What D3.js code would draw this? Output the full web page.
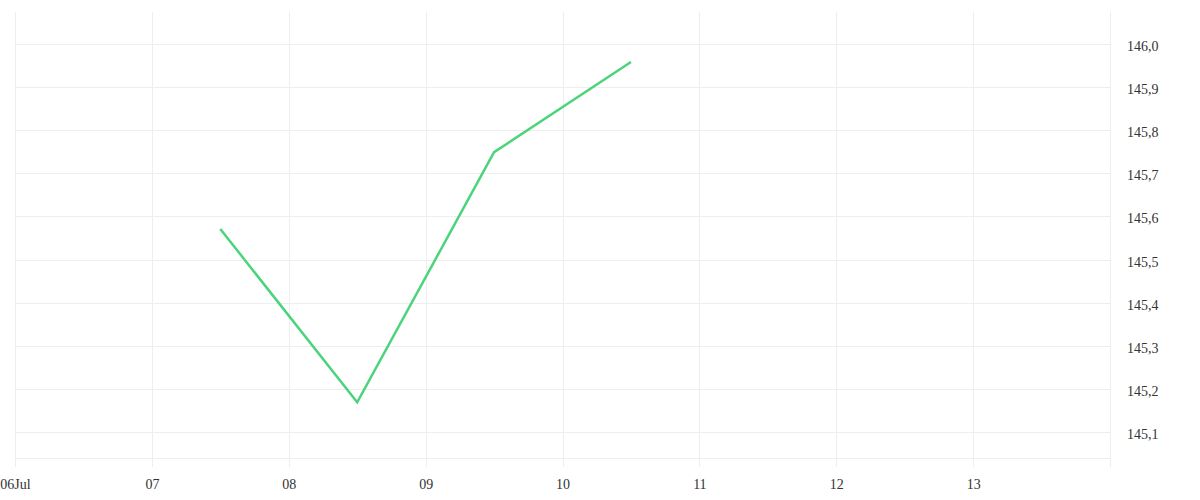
<!DOCTYPE html>
<html>
<head>
<meta charset="utf-8">
<script src="https://cdn.jsdelivr.net/npm/d3@7"></script>
<style>
  body { margin: 0; background: #fff; }
</style>
</head>
<body>
<svg width="1200" height="500"></svg>
<script>
// data
const times = ["2024-07-07T12:00", "2024-07-08T12:00", "2024-07-09T12:00", "2024-07-10T12:00"];
const prices = [145.571, 145.169, 145.749, 145.958];
const dayTicks = ["2024-07-06", "2024-07-07", "2024-07-08", "2024-07-09", "2024-07-10", "2024-07-11", "2024-07-12", "2024-07-13", "2024-07-14"];
const dayLabels = ["06Jul", "07", "08", "09", "10", "11", "12", "13", ""];
const priceTicks = [145.1, 145.2, 145.3, 145.4, 145.5, 145.6, 145.7, 145.8, 145.9, 146.0];

const svg = d3.select("svg");
const margin = { top: 12, left: 15, right: 90, bottom: 42 };
const width = +svg.attr("width");
const height = +svg.attr("height");
const parse = d3.timeParse("%Y-%m-%dT%H:%M");
const parseDay = d3.timeParse("%Y-%m-%d");

const data = times.map((t, i) => ({ t: parse(t), v: prices[i] }));
const days = dayTicks.map(parseDay);

const xScale = d3.scaleTime()
  .domain([days[0], days[days.length - 1]])
  .range([margin.left, width - margin.right]);

const yScale = d3.scaleLinear()
  .domain([145.04, 146.074])
  .range([height - margin.bottom, margin.top]);

const grid = "#eeeeee";
const bottom = height - margin.bottom;
const font = "'Liberation Serif', serif";

// horizontal grid
svg.append("g")
  .selectAll("line")
  .data(priceTicks)
  .enter()
  .append("line")
  .attr("x1", margin.left)
  .attr("x2", width - margin.right)
  .attr("y1", d => Math.round(yScale(d)) + 0.5)
  .attr("y2", d => Math.round(yScale(d)) + 0.5)
  .attr("stroke", grid);

// bottom baseline
svg.append("line")
  .attr("x1", margin.left)
  .attr("x2", width - margin.right)
  .attr("y1", bottom + 0.5)
  .attr("y2", bottom + 0.5)
  .attr("stroke", grid);

// vertical grid, running a little below the baseline
svg.append("g")
  .selectAll("line")
  .data(days)
  .enter()
  .append("line")
  .attr("x1", d => Math.round(xScale(d)) + 0.5)
  .attr("x2", d => Math.round(xScale(d)) + 0.5)
  .attr("y1", margin.top)
  .attr("y2", bottom + 9)
  .attr("stroke", grid);

// x labels
const labelOf = new Map(days.map((d, i) => [+d, dayLabels[i]]));
const xAxis = svg.append("g")
  .attr("transform", `translate(0,${bottom + 9})`)
  .call(d3.axisBottom(xScale).tickValues(days).tickSize(0).tickPadding(12)
    .tickFormat(d => labelOf.get(+d)));
xAxis.select(".domain").remove();

// y labels on the right
const yAxis = svg.append("g")
  .attr("transform", `translate(${width - margin.right},2)`)
  .call(d3.axisRight(yScale).tickValues(priceTicks).tickSize(0).tickPadding(17)
    .tickFormat(d => d3.format(".1f")(d).replace(".", ",")));
yAxis.select(".domain").remove();

svg.selectAll(".tick text")
  .style("font-family", font)
  .style("font-size", "14px")
  .style("fill", "#333");

// price line
const line = d3.line()
  .x(d => xScale(d.t))
  .y(d => yScale(d.v));

svg.append("path")
  .datum(data)
  .attr("fill", "none")
  .attr("stroke", "#4cd47c")
  .attr("stroke-width", 2.5)
  .attr("d", line);
</script>
</body>
</html>
